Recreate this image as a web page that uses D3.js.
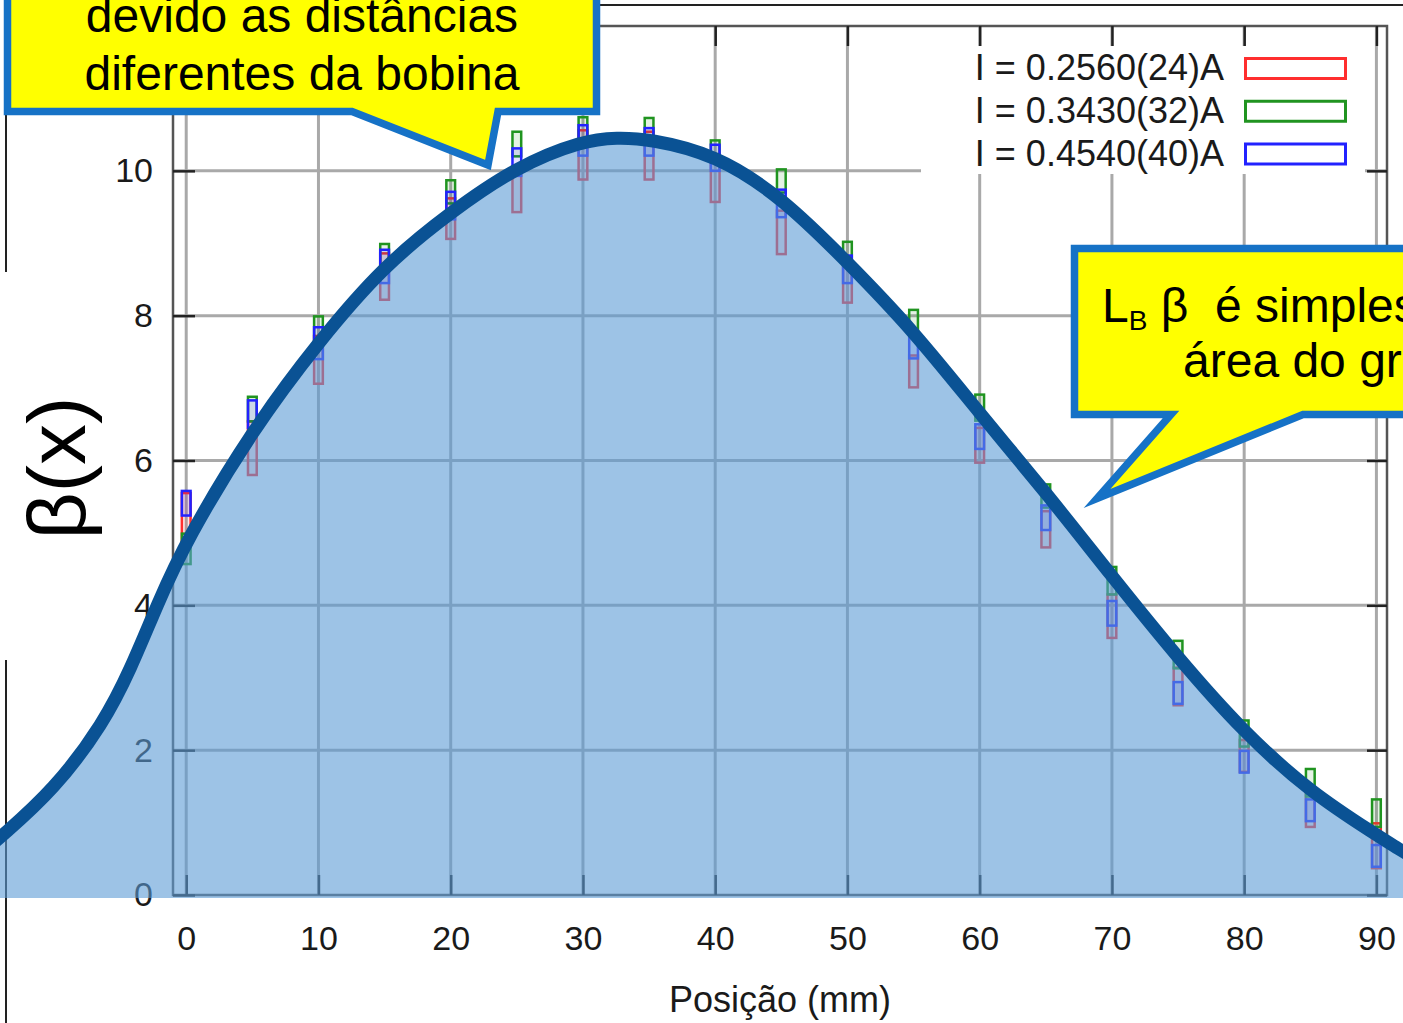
<!DOCTYPE html>
<html>
<head>
<meta charset="utf-8">
<script src="https://cdn.jsdelivr.net/npm/d3@7"></script>
<style>
  html, body { margin: 0; padding: 0; background: #ffffff; overflow: hidden; }
  svg { display: block; }
  text { font-family: "Liberation Sans", Arial, Helvetica, sans-serif; }
</style>
</head>
<body>
<svg id="chart" width="1403" height="1023"></svg>
<script>
// ---- data -------------------------------------------------------------
// probe positions along the magnet (mm)
const positions = [0, 5, 10, 15, 20, 25, 30, 35, 40, 45, 50, 55, 60, 65, 70, 75, 80, 85, 90];

// beta(x) and its uncertainty for each coil current
const seriesLabels = ["I = 0.2560(24)A", "I = 0.3430(32)A", "I = 0.4540(40)A"];
const beta256 = [5.22, 6.17, 7.39, 8.54, 9.34, 9.71, 10.22, 10.21, 9.90, 9.15, 8.46, 7.23, 6.21, 5.05, 3.85, 2.88, 1.92, 1.17, 0.68];
const err256  = [0.33, 0.37, 0.33, 0.32, 0.28, 0.28, 0.34, 0.33, 0.33, 0.30, 0.28, 0.22, 0.24, 0.25, 0.30, 0.26, 0.22, 0.23, 0.31];
const beta343 = [4.78, 6.71, 7.82, 8.82, 9.71, 10.37, 10.57, 10.59, 10.28, 9.86, 8.86, 7.91, 6.73, 5.51, 4.34, 3.32, 2.23, 1.55, 1.13];
const err343  = [0.21, 0.17, 0.17, 0.17, 0.16, 0.17, 0.17, 0.14, 0.14, 0.16, 0.16, 0.17, 0.18, 0.16, 0.19, 0.19, 0.18, 0.19, 0.19];
const beta454 = [5.41, 6.64, 7.62, 8.68, 9.52, 10.12, 10.42, 10.40, 10.18, 9.55, 8.64, 7.56, 6.33, 5.21, 3.89, 2.79, 1.84, 1.17, 0.54];
const err454  = [0.17, 0.19, 0.22, 0.23, 0.19, 0.19, 0.21, 0.19, 0.18, 0.19, 0.19, 0.15, 0.17, 0.17, 0.17, 0.15, 0.15, 0.15, 0.15];

// hand-drawn profile laid over the measurements (mm, beta)
const profileX    = [-14.8, -14.04, -10, -6.25, -4.2, -2.17, 0, 5, 10, 15, 20, 25, 30, 32.6,
                     35, 40, 45, 50, 55, 60, 65, 70, 75, 80, 85, 90, 91.81, 92.79];
const profileBeta = [0.68, 0.80, 1.45, 2.37, 3.12, 4.02, 4.90, 6.42, 7.64, 8.70, 9.43, 10.06, 10.42, 10.46,
                     10.44, 10.23, 9.64, 8.74, 7.79, 6.65, 5.56, 4.40, 3.27, 2.24, 1.42, 0.83, 0.62, 0.52];

// axis ticks and texts
const xTicks = [0, 10, 20, 30, 40, 50, 60, 70, 80, 90];
const yTicks = [0, 2, 4, 6, 8, 10];
const xTitle = "Posição (mm)";
const yTitle = "β(x)";
const noteLeft = ["devido as distâncias", "diferentes da bobina"];

// ---- layout -----------------------------------------------------------
const svg = d3.select("#chart");
const frame = { left: 173, right: 1387, top: 26, bottom: 895 };
const x = d3.scaleLinear().domain([-1, 90.8]).range([frame.left, frame.right]);
const y = d3.scaleLinear().domain([0, 12]).range([frame.bottom, frame.top]);
const boxHalf = 0.33;   // half width of an error box, in mm
const colors = ["#ff2e2e", "#209420", "#2222ff"];
const series = [
  { label: seriesLabels[0], mean: beta256, err: err256, color: colors[0] },
  { label: seriesLabels[1], mean: beta343, err: err343, color: colors[1] },
  { label: seriesLabels[2], mean: beta454, err: err454, color: colors[2] }
];

svg.append("rect").attr("width", 1403).attr("height", 1023).attr("fill", "#fff");

// slide rules
const rules = svg.append("g").attr("stroke", "#222").attr("stroke-width", 2);
rules.append("line").attr("x1", 6).attr("y1", 0).attr("x2", 6).attr("y2", 272);
rules.append("line").attr("x1", 6).attr("y1", 660).attr("x2", 6).attr("y2", 1023);
rules.append("line").attr("x1", 590).attr("y1", 5).attr("x2", 1403).attr("y2", 5);

// grid
const grid = svg.append("g").attr("stroke", "#a9a9a9").attr("stroke-width", 3);
grid.selectAll("line.v").data(xTicks).join("line").attr("class", "v")
  .attr("x1", d => x(d)).attr("x2", d => x(d))
  .attr("y1", frame.top).attr("y2", frame.bottom);
grid.selectAll("line.h").data(yTicks.filter(d => d > 0)).join("line").attr("class", "h")
  .attr("x1", frame.left).attr("x2", frame.right)
  .attr("y1", d => y(d)).attr("y2", d => y(d));

// opaque key area
svg.append("rect").attr("x", 921).attr("y", 46).attr("width", 444).attr("height", 128).attr("fill", "#fff");

// frame
svg.append("rect")
  .attr("x", frame.left).attr("y", frame.top)
  .attr("width", frame.right - frame.left).attr("height", frame.bottom - frame.top)
  .attr("fill", "none").attr("stroke", "#555").attr("stroke-width", 2.5);

function styleAxis(g) {
  g.select(".domain").remove();
  g.selectAll(".tick line").attr("stroke", "#222").attr("stroke-width", 2.5);
  g.selectAll(".tick text").attr("fill", "#1a1a1a").attr("font-size", 34)
    .attr("font-family", "'Liberation Sans', Arial, sans-serif");
}
svg.append("g").attr("transform", `translate(0,${frame.bottom})`)
  .call(d3.axisBottom(x).tickValues(xTicks).tickSizeInner(-20).tickSizeOuter(0).tickPadding(31))
  .call(styleAxis);
svg.append("g").attr("transform", `translate(0,${frame.top})`)
  .call(d3.axisTop(x).tickValues(xTicks).tickSizeInner(-20).tickSizeOuter(0).tickFormat(""))
  .call(styleAxis);
svg.append("g").attr("transform", `translate(${frame.left},0)`)
  .call(d3.axisLeft(y).tickValues(yTicks).tickSizeInner(-22).tickSizeOuter(0).tickPadding(20))
  .call(styleAxis);
svg.append("g").attr("transform", `translate(${frame.right},0)`)
  .call(d3.axisRight(y).tickValues(yTicks).tickSizeInner(-20).tickSizeOuter(0).tickFormat(""))
  .call(styleAxis);

// axis titles
svg.append("text").attr("x", (frame.left + frame.right) / 2).attr("y", 1012)
  .attr("text-anchor", "middle").attr("font-size", 36).attr("fill", "#1a1a1a").text(xTitle);
svg.append("text").attr("transform", "translate(85,468) rotate(-90)")
  .attr("text-anchor", "middle").attr("font-size", 82).attr("fill", "#000").text(yTitle);

// error boxes
series.forEach(s => {
  svg.append("g").selectAll("rect")
    .data(positions.map((p, i) => ({ p, m: s.mean[i], e: s.err[i] })))
    .join("rect")
    .attr("x", d => x(d.p - boxHalf))
    .attr("width", d => x(d.p + boxHalf) - x(d.p - boxHalf))
    .attr("y", d => y(d.m + d.e))
    .attr("height", d => y(d.m - d.e) - y(d.m + d.e))
    .attr("fill", s.color).attr("fill-opacity", 0.12)
    .attr("stroke", s.color).attr("stroke-width", 2.5);
});

// key
const key = svg.append("g");
series.forEach((s, i) => {
  const cy = 68.5 + i * 42.75;
  key.append("text").attr("x", 1224).attr("y", cy + 11.5)
    .attr("text-anchor", "end").attr("font-size", 36).attr("fill", "#1a1a1a").text(s.label);
  key.append("rect").attr("x", 1245.5).attr("y", cy - 10).attr("width", 100).attr("height", 20)
    .attr("fill", "#fff").attr("stroke", s.color).attr("stroke-width", 3);
});

// shaded area under the profile, laid over the plot
const profile = profileX.map((v, i) => [v, profileBeta[i]]);
svg.append("path").datum(profile)
  .attr("d", d3.area().x(d => x(d[0])).y0(y(0) + 3).y1(d => y(d[1])).curve(d3.curveBasis))
  .attr("fill", "#5b9bd5").attr("fill-opacity", 0.6);
svg.append("path").datum(profile)
  .attr("d", d3.line().x(d => x(d[0])).y(d => y(d[1])).curve(d3.curveBasis))
  .attr("fill", "none").attr("stroke", "#0a5294").attr("stroke-width", 13)
  .attr("stroke-linecap", "round").attr("stroke-linejoin", "round");

// callouts
const callout = { fill: "#ffff00", stroke: "#1672c6", width: 7.5 };
svg.append("path")
  .attr("d", "M7.5,-80 H596.5 V111.5 H498 L488,165 L352,111.5 H7.5 Z")
  .attr("fill", callout.fill).attr("stroke", callout.stroke)
  .attr("stroke-width", callout.width).attr("stroke-miterlimit", 20);
svg.append("text").attr("x", 302).attr("y", 32).attr("text-anchor", "middle")
  .attr("font-size", 48).attr("fill", "#000").text(noteLeft[0]);
svg.append("text").attr("x", 302).attr("y", 90).attr("text-anchor", "middle")
  .attr("font-size", 48).attr("fill", "#000").text(noteLeft[1]);

svg.append("path")
  .attr("d", "M1074.5,248.5 H1660 V414.5 H1303 L1097,498.5 L1171,414.5 H1074.5 Z")
  .attr("fill", callout.fill).attr("stroke", callout.stroke)
  .attr("stroke-width", callout.width).attr("stroke-miterlimit", 20);
const noteRight = svg.append("text").attr("x", 1102).attr("y", 322)
  .attr("font-size", 48).attr("fill", "#000").style("white-space", "pre");
noteRight.append("tspan").text("L");
noteRight.append("tspan").attr("font-size", 28).attr("dy", 8).text("B");
noteRight.append("tspan").attr("dy", -8).text(" β  é simplesmente a");
svg.append("text").attr("x", 1183).attr("y", 377)
  .attr("font-size", 48).attr("fill", "#000").text("área do gráfico");
</script>
</body>
</html>
